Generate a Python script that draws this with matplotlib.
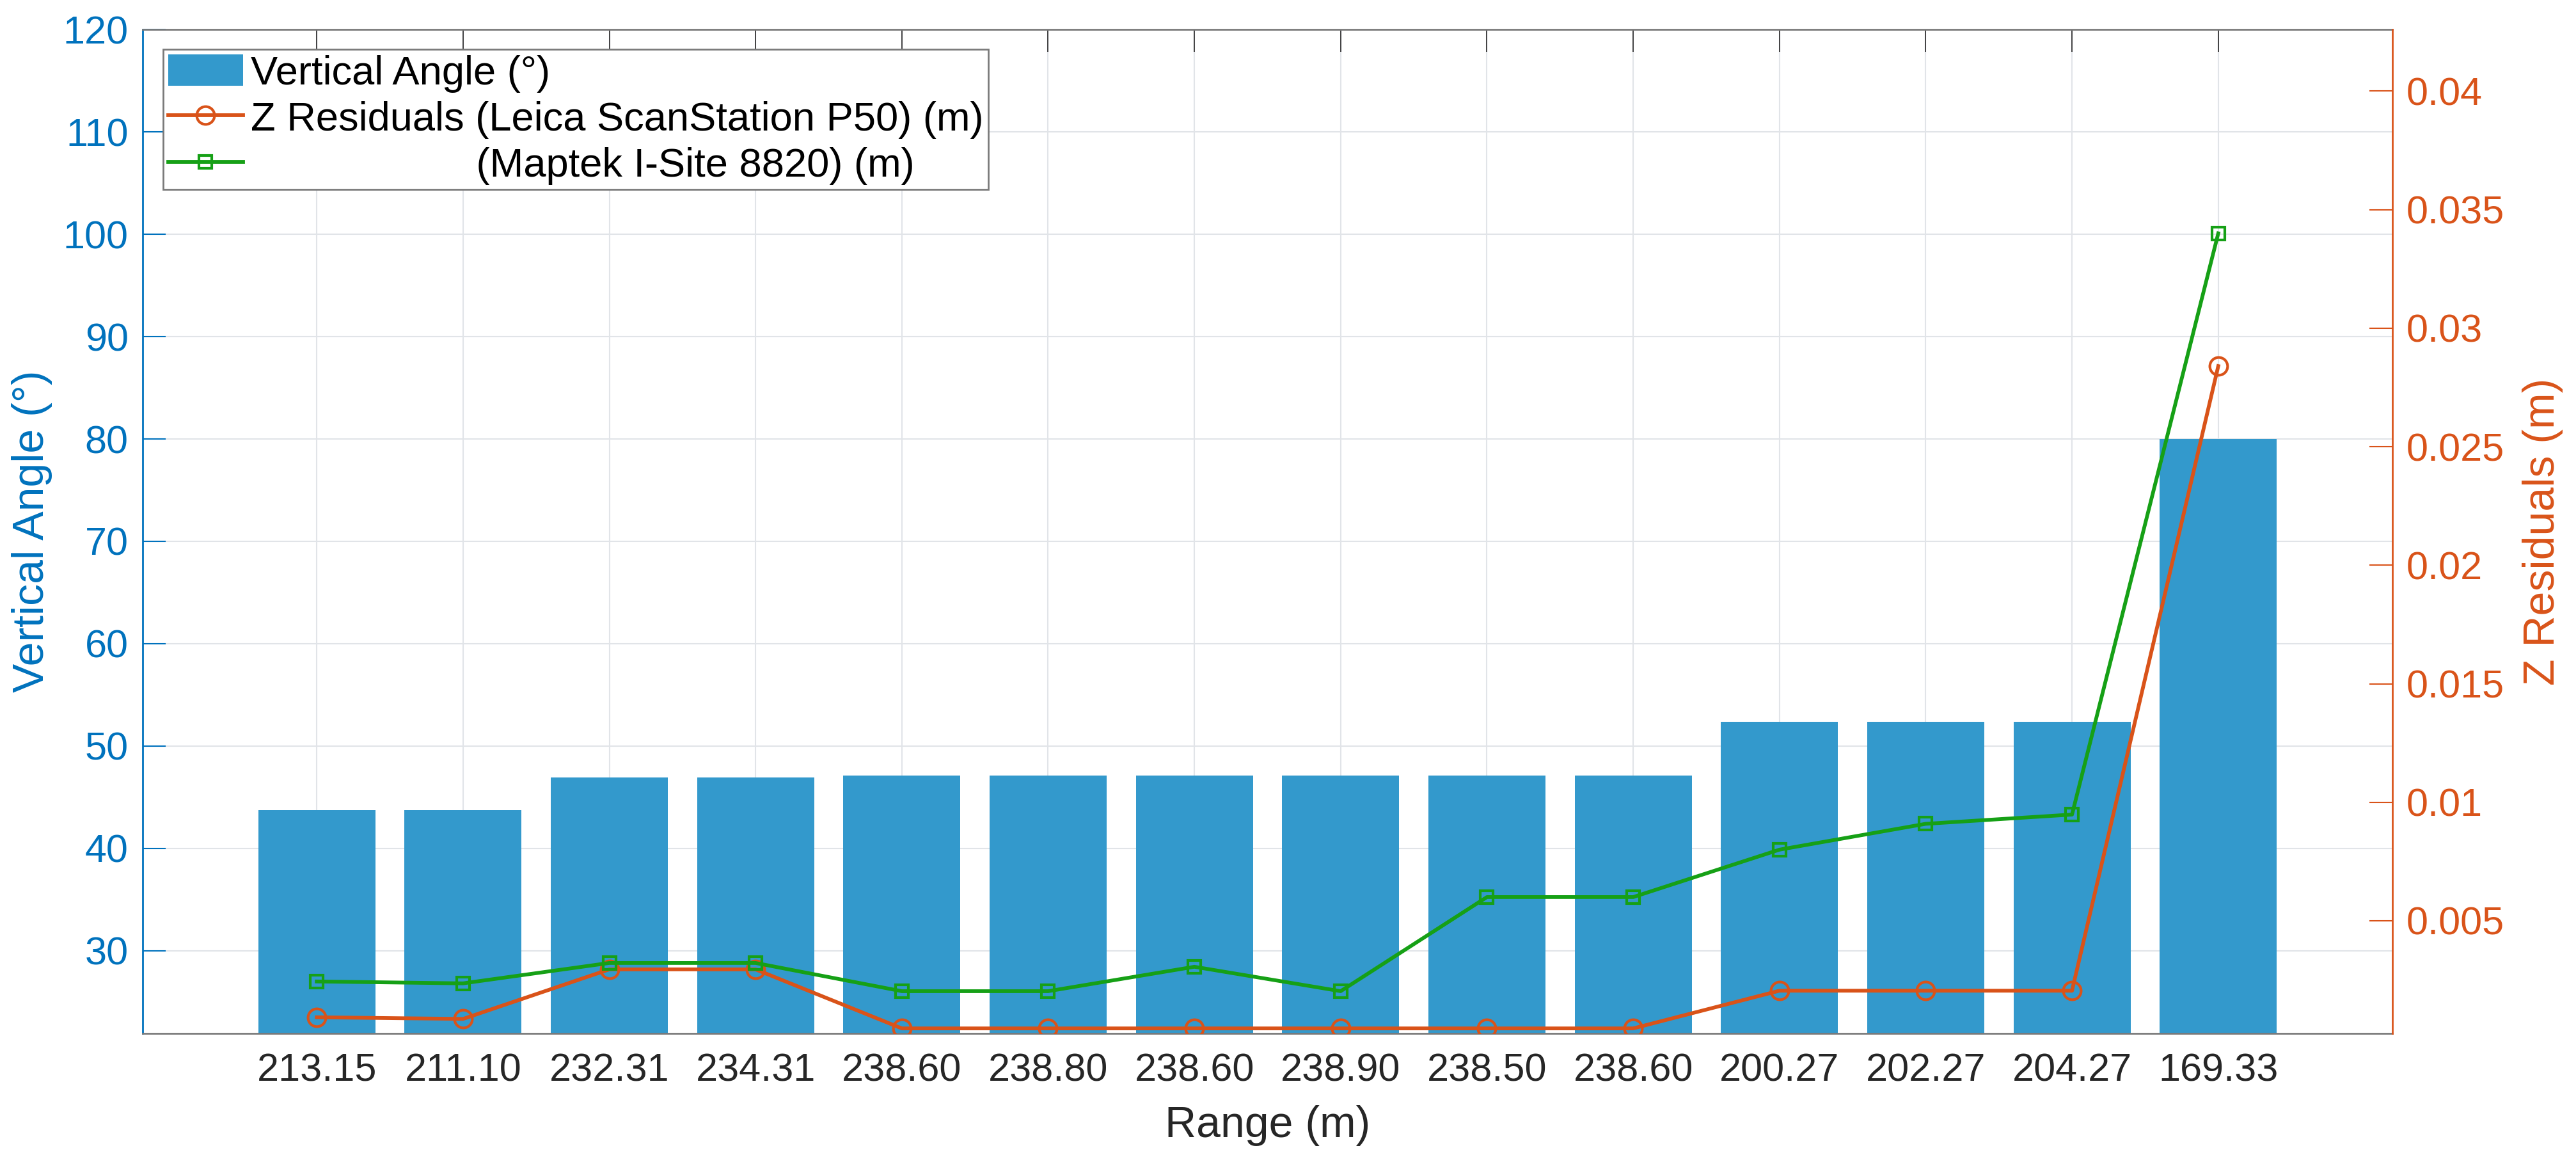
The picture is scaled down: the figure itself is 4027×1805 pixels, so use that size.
import matplotlib.pyplot as plt
import matplotlib.ticker as mticker
import numpy as np

plt.rcParams['font.family'] = ['Liberation Sans', 'DejaVu Sans']

# data
ranges = ["213.15", "211.10", "232.31", "234.31", "238.60", "238.80", "238.60",
          "238.90", "238.50", "238.60", "200.27", "202.27", "204.27", "169.33"]
vertical_angle = [43.77, 43.77, 46.94, 46.94, 47.1, 47.1, 47.1,
                  47.1, 47.1, 47.1, 52.4, 52.4, 52.4, 80.0]
z_leica = [0.00093, 0.00086, 0.00295, 0.00295, 0.00046, 0.00046, 0.00046,
           0.00046, 0.00046, 0.00046, 0.00205, 0.00205, 0.00205, 0.0284]
z_maptek = [0.00244, 0.00236, 0.00322, 0.00322, 0.00203, 0.00203, 0.00306,
            0.00203, 0.006, 0.006, 0.008, 0.00909, 0.00948, 0.034]
left_ticks = [30, 40, 50, 60, 70, 80, 90, 100, 110, 120]
right_ticks = [0.005, 0.01, 0.015, 0.02, 0.025, 0.03, 0.035, 0.04]

blue = '#0072BD'
orange = '#D95319'
green = '#16A016'
dark = '#262626'

x = np.arange(1, len(ranges) + 1)

fig = plt.figure(figsize=(40.27, 18.05), dpi=100)
ax1 = fig.add_axes([0.0554, 0.1053, 0.8733, 0.8692])
ax1.set_axisbelow(True)
bars = ax1.bar(x, vertical_angle, width=0.8, color='#3399CC',
               label='Vertical Angle (°)')
ax1.set_xlim(-0.19, 15.19)
ax1.set_ylim(21.94, 120)
ax1.set_xticks(x)
ax1.set_xticklabels(ranges)
ax1.set_yticks(left_ticks)
ax1.grid(True, color='#e1e4e8', linewidth=1.5)
ax1.tick_params(axis='x', direction='in', length=25, width=1.2, color=dark,
                top=True, labelsize=44, labelcolor=dark, pad=22)
ax1.tick_params(axis='y', direction='in', length=26, width=1.5, color=blue,
                labelsize=44, labelcolor=blue, pad=16)
ax1.set_xlabel('Range (m)', fontsize=49, color=dark)
ax1.xaxis.set_label_coords(0.5, -0.0716)
ax1.set_ylabel('Vertical Angle (°)', fontsize=49, color=blue)
ax1.yaxis.set_label_coords(-0.040, 0.5)
for s in ['top', 'bottom']:
    ax1.spines[s].set_color('#7a7a7a')
    ax1.spines[s].set_linewidth(2)
ax1.spines['left'].set_color(blue)
ax1.spines['left'].set_linewidth(2)
ax1.spines['right'].set_visible(False)

ax2 = ax1.twinx()
l1, = ax2.plot(x, z_leica, '-o', color=orange, lw=4.2, ms=20, mfc='none',
               mew=3, label='Z Residuals (Leica ScanStation P50) (m)')
l2, = ax2.plot(x, z_maptek, '-s', color=green, lw=4.2, ms=15, mfc='none',
               mew=3, label=' ' * 20 + '(Maptek I-Site 8820) (m)')
ax2.set_ylim(0.00025, 0.0426)
ax2.set_yticks(right_ticks)
ax2.yaxis.set_major_formatter(mticker.FuncFormatter(lambda v, p: '%g' % v))
ax2.tick_params(axis='y', direction='in', length=26, width=1.5, color=orange,
                labelsize=44, labelcolor=orange, pad=16)
ax2.set_ylabel('Z Residuals (m)', fontsize=49, color=orange)
ax2.yaxis.set_label_coords(1.0577, 0.5)
ax2.spines['right'].set_color(orange)
ax2.spines['right'].set_linewidth(2)
for s in ['top', 'bottom', 'left']:
    ax2.spines[s].set_visible(False)

leg = ax2.legend([bars, l1, l2], [bars.get_label(), l1.get_label(), l2.get_label()],
                 loc='upper left', bbox_to_anchor=(0.0091, 0.980), borderaxespad=0,
                 fontsize=45.5, handlelength=1.85, handleheight=0.82,
                 handletextpad=0.2, labelspacing=0.2, borderpad=0.12,
                 fancybox=False, framealpha=1, edgecolor='#7a7a7a')
leg.get_frame().set_linewidth(2)

plt.savefig('out.png', dpi=100)
